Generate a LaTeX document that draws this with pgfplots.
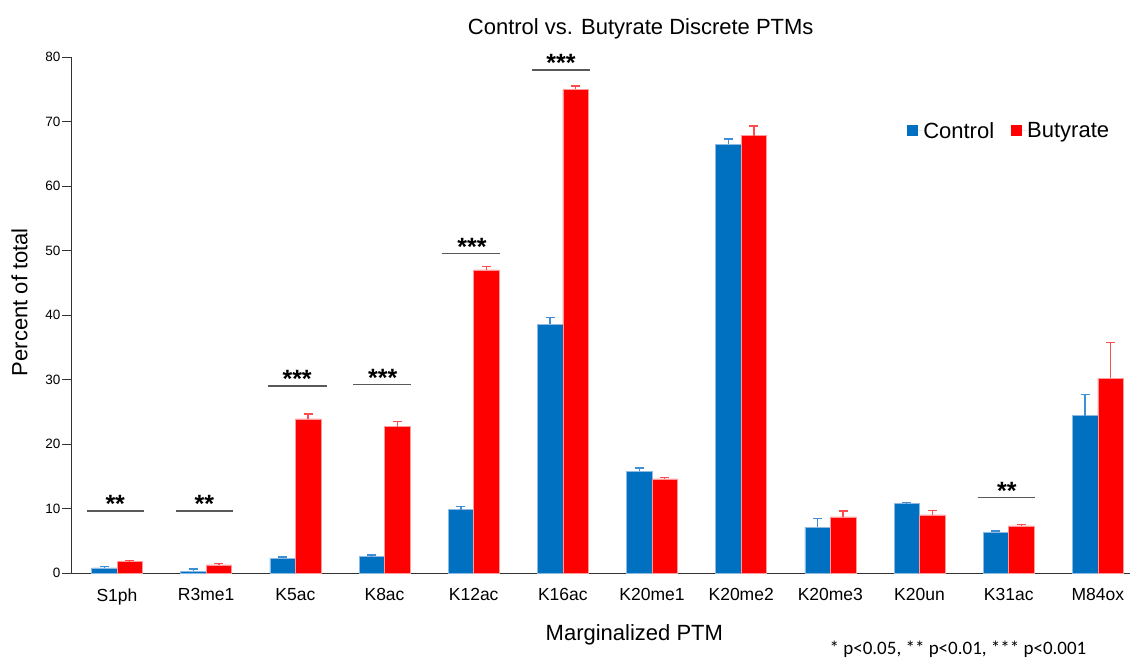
\documentclass[border=0pt]{standalone}
\usepackage{pgfplots}
\pgfplotsset{compat=1.18}
\usepackage{pgfplotstable}
\usepackage{fontspec}
\setmainfont{Liberation Sans}
\newfontfamily\calib{Carlito}
\definecolor{cblue}{HTML}{0070C0}
\definecolor{cred}{HTML}{FF0000}
\definecolor{cblueedge}{HTML}{8DB9E2}
\definecolor{credge}{HTML}{FF9A9A}
\definecolor{errblue}{HTML}{3E8FD6}
\definecolor{errred}{HTML}{FF4C4C}
\definecolor{siggray}{HTML}{595959}

\pgfplotstableread{
x c cerr b berr
0 0.80 0.20 1.75 0.20
1 0.30 0.30 1.25 0.25
2 2.30 0.20 23.90 0.75
3 2.55 0.25 22.70 0.80
4 9.80 0.55 47.00 0.50
5 38.60 1.00 75.00 0.50
6 15.80 0.50 14.60 0.20
7 66.50 0.80 67.80 1.50
8 7.10 1.30 8.70 0.90
9 10.80 0.10 9.00 0.70
10 6.30 0.20 7.30 0.20
11 24.40 3.30 30.20 5.50
}\data

\begin{document}
\begin{tikzpicture}
\path[use as bounding box] (0,0) rectangle (1132pt,659pt);
\begin{axis}[
  at={(71pt,86pt)}, anchor=south west,
  scale only axis, width=1059pt, height=516pt,
  xmin=-0.516, xmax=11.36, ymin=0, ymax=80,
  axis lines*=left,
  axis line style={black!80, line width=1pt},
  ytick={0,10,...,80},
  xtick={0,...,11},
  xticklabels={S1ph,R3me1,K5ac,K8ac,K12ac,K16ac,K20me1,K20me2,K20me3,K20un,K31ac,M84ox},
  xtick style={draw=none},
  ytick style={black!80, line width=1pt},
  tick align=outside, major tick length=9pt,
  /pgf/number format/assume math mode=true,
  yticklabel style={font=\fontsize{13.5}{15}\selectfont, xshift=2pt},
  xticklabel style={font=\fontsize{17.5}{20}\selectfont, yshift=-3pt},
  every axis y label/.style={at={(axis description cs:-0.0486,0.525)}, rotate=90, anchor=center},
  ylabel={\fontsize{22}{26}\selectfont Percent of total},
  every axis x label/.style={at={(axis description cs:0.532,-0.12)}, anchor=center},
  xlabel={\fontsize{22}{26}\selectfont Marginalized PTM},
  every axis title/.style={at={(axis description cs:0.538,1.054)}, anchor=center},
  title={\fontsize{22}{26}\selectfont Control vs. Butyrate Discrete PTMs},
  legend style={at={(rel axis cs:0.7895,0.857)}, anchor=west, draw=none, fill=none,
    font=\fontsize{22}{26}\selectfont, legend columns=2,
    nodes={inner sep=0pt},
    /tikz/every even column/.append style={column sep=17pt}, inner sep=0pt},
  legend image code/.code={\path (0pt,0pt) -- (16pt,0pt);\fill[#1] (0pt,-5.5pt) rectangle (11pt,5.5pt);},
  clip=false,
]
\addplot[ybar, bar width=25.5pt, bar shift=0pt, fill=cblue, draw=cblueedge, line width=0.6pt,
  forget plot,
  error bars/.cd, y dir=plus, y explicit,
  error bar style={errblue, line width=1.3pt},
  error mark options={errblue, rotate=90, mark size=4.5pt, line width=1.3pt}]
  table[x expr=\thisrow{x}-0.143, y=c, y error=cerr] {\data};
\addplot[ybar, bar width=25.5pt, bar shift=0pt, fill=cred, draw=credge, line width=0.6pt,
  forget plot,
  error bars/.cd, y dir=plus, y explicit,
  error bar style={errred, line width=1.3pt},
  error mark options={errred, rotate=90, mark size=4.5pt, line width=1.3pt}]
  table[x expr=\thisrow{x}+0.143, y=b, y error=berr] {\data};

\addlegendimage{fill=cblue, draw=none}
\addlegendentry{Control}
\addlegendimage{fill=cred, draw=none}
\addlegendentry{Butyrate}

% significance lines
\addplot[siggray, line width=1.5pt, forget plot] coordinates {(-0.34,9.65) (0.30,9.65)};
\addplot[siggray, line width=1.5pt, forget plot] coordinates {(0.66,9.65) (1.30,9.65)};
\addplot[siggray, line width=1.5pt, forget plot] coordinates {(1.69,29.0) (2.35,29.0)};
\addplot[siggray, line width=1.5pt, forget plot] coordinates {(2.65,29.2) (3.30,29.2)};
\addplot[siggray, line width=1.5pt, forget plot] coordinates {(3.65,49.5) (4.30,49.5)};
\addplot[siggray, line width=1.5pt, forget plot] coordinates {(4.65,78.0) (5.30,78.0)};
\addplot[siggray, line width=1.5pt, forget plot] coordinates {(9.65,11.7) (10.30,11.7)};

\begin{scope}[every node/.style={font=\bfseries\fontsize{25}{25}\selectfont, anchor=base, yshift=-2pt}]
\node at (axis cs:-0.02,9.65) {**};
\node at (axis cs:0.98,9.65) {**};
\node at (axis cs:2.02,29.0) {***};
\node at (axis cs:2.98,29.2) {***};
\node at (axis cs:3.98,49.5) {***};
\node at (axis cs:4.98,78.0) {***};
\node at (axis cs:9.98,11.7) {**};
\end{scope}

\node[font=\calib\fontsize{19}{22}\selectfont, anchor=center] at (rel axis cs:0.8376,-0.147) {* p<0.05, ** p<0.01, *** p<0.001};
\end{axis}
\end{tikzpicture}
\end{document}
